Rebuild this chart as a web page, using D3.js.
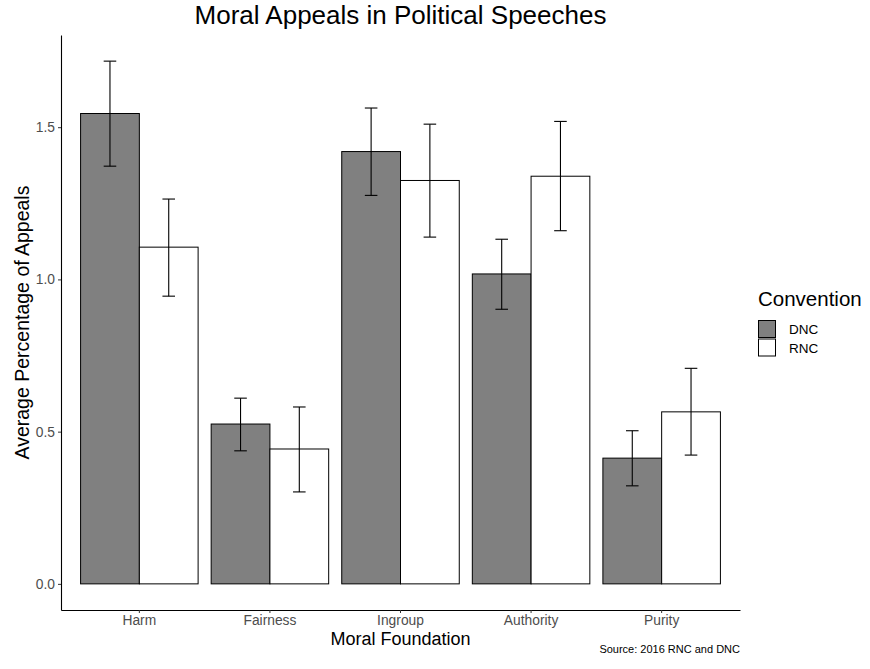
<!DOCTYPE html>
<html lang='en'>
	<head>
		<title>Moral Appeals in Political Speeches</title>
		<script type='text/javascript' src='https://cdn.jsdelivr.net/npm/d3@7/dist/d3.min.js'></script>
		<style>
			body { margin: 0; background: #fff; }
			text { font-family: 'Liberation Sans', Arial, sans-serif; }
		</style>
	</head>
	<body>
		<script type='text/javascript'>
			var foundations = ['Harm', 'Fairness', 'Ingroup', 'Authority', 'Purity'];
			var conventions = ['DNC', 'RNC'];
			var dnc_mean = [1.545, 0.525, 1.420, 1.018, 0.413];
			var dnc_low  = [1.372, 0.437, 1.276, 0.902, 0.322];
			var dnc_high = [1.717, 0.610, 1.563, 1.132, 0.503];
			var rnc_mean = [1.106, 0.443, 1.325, 1.339, 0.565];
			var rnc_low  = [0.945, 0.302, 1.139, 1.160, 0.423];
			var rnc_high = [1.264, 0.581, 1.510, 1.519, 0.708];
			var y_ticks = [0, 0.5, 1.0, 1.5];
			var fills = {DNC: '#808080', RNC: '#ffffff'};

			{
				var rows = [];
				foundations.forEach(function(f, i) {
					rows.push({f: f, c: 'DNC', v: dnc_mean[i], lo: dnc_low[i], hi: dnc_high[i]});
					rows.push({f: f, c: 'RNC', v: rnc_mean[i], lo: rnc_low[i], hi: rnc_high[i]});
				});

				var width = 870, height = 669;
				var plot_l = 61, plot_r = 740, plot_t = 35, plot_b = 610;
				var svg = d3.select('body').append('svg').attr('width', width).attr('height', height);

				var x = d3.scaleBand().domain(foundations).range([plot_l, plot_r]).paddingInner(0.1).paddingOuter(0.15);
				var xs = d3.scaleBand().domain(conventions).range([0, x.bandwidth()]);

				var ymax = d3.max(rows, d => d.hi), pad = ymax * 0.05;
				var y = d3.scaleLinear().domain([-pad, ymax + pad]).range([plot_b, plot_t]);

				// bars
				svg.append('g').selectAll('rect').data(rows).enter().append('rect')
					.attr('x', d => x(d.f) + xs(d.c))
					.attr('y', d => y(d.v))
					.attr('width', xs.bandwidth())
					.attr('height', d => y(0) - y(d.v))
					.attr('fill', d => fills[d.c])
					.attr('stroke', '#000')
					.attr('stroke-width', 1);

				// error bars
				var cap = xs.bandwidth() * 0.107;
				var mid = d => x(d.f) + xs(d.c) + xs.bandwidth() / 2;
				var eb = svg.append('g').selectAll('g').data(rows).enter().append('g')
					.attr('stroke', '#000').attr('stroke-width', 1.1);
				eb.append('line')
					.attr('x1', mid).attr('x2', mid)
					.attr('y1', d => y(d.lo)).attr('y2', d => y(d.hi));
				eb.append('line')
					.attr('x1', d => mid(d) - cap).attr('x2', d => mid(d) + cap)
					.attr('y1', d => y(d.hi)).attr('y2', d => y(d.hi));
				eb.append('line')
					.attr('x1', d => mid(d) - cap).attr('x2', d => mid(d) + cap)
					.attr('y1', d => y(d.lo)).attr('y2', d => y(d.lo));

				// axes
				var xAxis = svg.append('g').attr('transform', 'translate(0,' + plot_b + ')')
					.call(d3.axisBottom(x).tickSize(3).tickPadding(2).tickSizeOuter(0));
				var yAxis = svg.append('g').attr('transform', 'translate(' + plot_l + ',0)')
					.call(d3.axisLeft(y).tickValues(y_ticks).tickFormat(d3.format('.1f')).tickSize(3).tickPadding(3).tickSizeOuter(0));
				[xAxis, yAxis].forEach(function(a) {
					a.select('.domain').attr('stroke', '#000').attr('stroke-width', 1.1);
					a.selectAll('.tick line').attr('stroke', '#333');
					a.selectAll('.tick text').attr('fill', '#4d4d4d').style('font-size', '13.8px')
						.style('font-family', "'Liberation Sans', Arial, sans-serif");
				});

				// titles
				svg.append('text').attr('x', (plot_l + plot_r) / 2).attr('y', 24)
					.attr('text-anchor', 'middle').style('font-size', '26px').text('Moral Appeals in Political Speeches');
				svg.append('text').attr('x', (plot_l + plot_r) / 2).attr('y', 645)
					.attr('text-anchor', 'middle').style('font-size', '18px').text('Moral Foundation');
				svg.append('text').attr('transform', 'translate(28.5,' + (plot_t + plot_b) / 2 + ') rotate(-90)')
					.attr('text-anchor', 'middle').style('font-size', '19.5px').text('Average Percentage of Appeals');
				svg.append('text').attr('x', plot_r).attr('y', 653)
					.attr('text-anchor', 'end').style('font-size', '11px').text('Source: 2016 RNC and DNC');

				// legend
				var lg = svg.append('g').attr('transform', 'translate(758,0)');
				lg.append('text').attr('x', 0).attr('y', 306).style('font-size', '20.5px').text('Convention');
				var items = lg.selectAll('g.item').data(conventions).enter().append('g')
					.attr('transform', (d, i) => 'translate(0,' + (320.5 + i * 18.5) + ')');
				items.append('rect').attr('x', 0.5).attr('width', 17).attr('height', 17)
					.attr('fill', d => fills[d]).attr('stroke', '#000').attr('stroke-width', 1);
				items.append('text').attr('x', 31).attr('y', 13.5).style('font-size', '13.5px').text(d => d);
			}
		</script>
	</body>
</html>
